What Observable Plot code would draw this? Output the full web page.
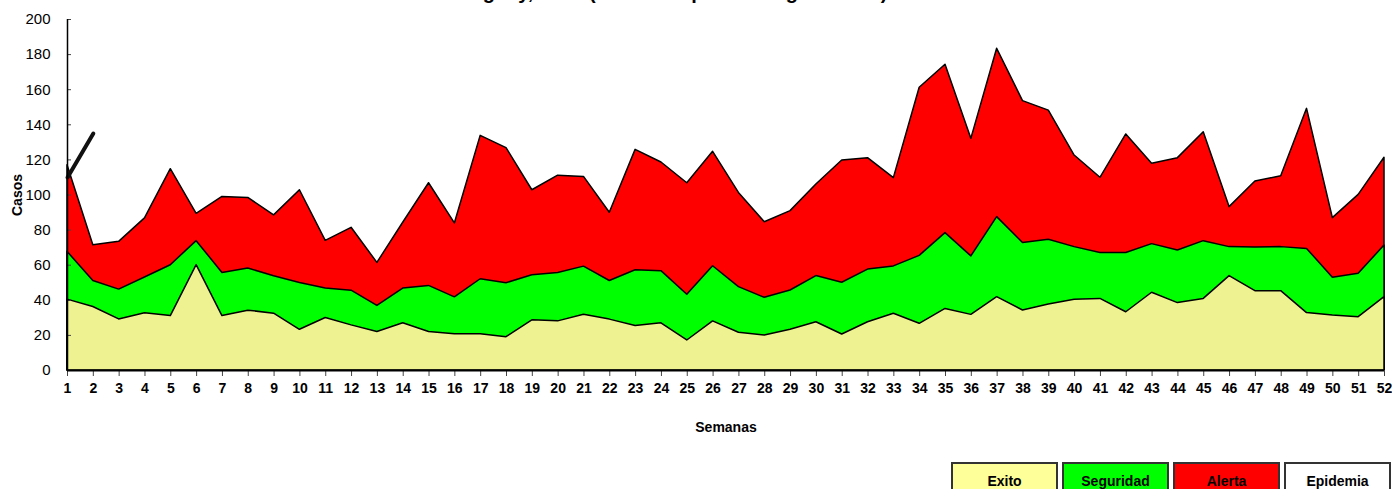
<!DOCTYPE html>
<html>
<head>
<meta charset="utf-8">
<script src="https://cdn.jsdelivr.net/npm/d3@7"></script>
<script src="https://cdn.jsdelivr.net/npm/@observablehq/plot@0.6"></script>
<style>
  html, body { margin: 0; padding: 0; background: #fff; }
  body { width: 1392px; height: 489px; overflow: hidden; position: relative; }
  #title { position: absolute; top: -18px; white-space: nowrap; font: bold 20px/20px "Liberation Sans", Arial, sans-serif; color: #000; }
  #chart { position: absolute; left: 0; top: 0; }
  #legend { position: absolute; left: 951px; top: 462px; display: flex; gap: 4px; }
  .box { width: 107px; height: 34px; box-sizing: border-box; border: 2px solid #333; padding-top: 9px; text-align: center; font: bold 14px/16px "Liberation Sans", Arial, sans-serif; color: #000; }
</style>
</head>
<body>
<div id="title"></div>
<div id="chart"></div>
<div id="legend"></div>
<script>
// ---- data ----
const weeks = [1,2,3,4,5,6,7,8,9,10,11,12,13,14,15,16,17,18,19,20,21,22,23,24,25,26,
               27,28,29,30,31,32,33,34,35,36,37,38,39,40,41,42,43,44,45,46,47,48,49,50,51,52];
const exito = [40.4,36.2,29.1,32.6,31.0,60.0,31.0,34.1,32.4,23.2,29.9,25.7,21.9,
               26.9,21.9,20.6,20.6,19.0,28.6,28.0,31.8,29.0,25.3,26.9,17.1,28.0,
               21.5,19.9,23.2,27.5,20.5,27.5,32.3,26.6,35.1,31.7,41.8,34.2,37.6,
               40.3,40.8,33.2,44.3,38.4,40.8,53.8,45.2,45.2,32.7,31.3,30.4,41.8];
const seguridad = [67.6,51.0,46.1,53.0,60.0,73.7,55.6,58.1,53.7,49.9,46.7,45.5,36.8,
                   46.7,48.2,41.7,52.0,49.7,54.3,55.6,59.2,51.0,57.1,56.6,43.2,59.4,
                   47.5,41.4,45.6,53.8,50.0,57.5,59.3,65.3,78.3,65.0,87.4,72.7,74.5,
                   70.3,67.0,67.0,72.0,68.4,73.7,70.3,70.1,70.3,69.3,52.8,55.1,71.2];
const alerta = [117.0,71.4,73.3,86.7,114.7,89.3,98.9,98.3,88.4,102.7,73.9,81.3,61.3,
                84.2,106.7,83.8,133.7,126.7,102.7,111.0,110.3,89.9,125.7,118.5,106.7,124.6,
                101.2,84.5,90.8,106.0,119.7,121.0,109.6,161.1,174.2,132.0,183.3,153.5,148.1,
                122.5,109.8,134.5,117.8,121.0,135.8,93.1,107.7,110.7,149.1,86.8,100.1,121.2];
const casosSemanas = [1, 2];
const casos = [110, 135];
const yTicks = [0,20,40,60,80,100,120,140,160,180,200];
const legendLabels = ["Exito", "Seguridad", "Alerta", "Epidemia"];
const legendColors = ["#ffff99", "#00ff00", "#ff0000", "#ffffff"];
const titleText = "Canal Endémico. Uruguay, 2012 (Semana Epidemiológica Nº 52)";

// ---- build ----
const zonas = weeks.map((w, i) => ({week: w, exito: exito[i], seguridad: seguridad[i], alerta: alerta[i]}));
const actual = casosSemanas.map((w, i) => ({week: w, casos: casos[i]}));
const narrow = '"Liberation Sans Narrow", "Arial Narrow", sans-serif';
const sans = '"Liberation Sans", Arial, sans-serif';

const plot = Plot.plot({
  width: 1392, height: 450,
  marginLeft: 67, marginRight: 8, marginTop: 19, marginBottom: 80,
  x: {domain: [1, 52]},
  y: {domain: [0, 200]},
  style: {background: "transparent", color: "#000"},
  marks: [
    Plot.areaY(zonas, {x: "week", y: "alerta", fill: "#ff0000", stroke: "#000", strokeWidth: 1.5}),
    Plot.areaY(zonas, {x: "week", y: "seguridad", fill: "#00ff00", stroke: "#000", strokeWidth: 1.5}),
    Plot.areaY(zonas, {x: "week", y: "exito", fill: "#eef290", stroke: "#000", strokeWidth: 1.5}),
    Plot.line(actual, {x: "week", y: "casos", stroke: "#111", strokeWidth: 4, strokeLinecap: "round"}),
    Plot.axisX({ticks: weeks, tickFormat: d => String(d), tickSize: 6, tickPadding: 7,
                fontFamily: narrow, fontWeight: "bold", fontSize: 14, label: null, stroke: "#444"}),
    Plot.axisY({ticks: yTicks, tickSize: -4, tickPadding: 21,
                fontFamily: narrow, fontSize: 15, label: null, stroke: "#444"}),
    Plot.ruleY([0], {stroke: "#000", strokeWidth: 2}),
    Plot.ruleX([1], {stroke: "#000", strokeWidth: 1.5}),
    Plot.text(["Semanas"], {text: d => d, frameAnchor: "bottom", dy: 57, lineAnchor: "middle",
                            fontWeight: "bold", fontSize: 14, fontFamily: sans}),
    Plot.text(["Casos"], {text: d => d, frameAnchor: "left", dx: -50, dy: 21, rotate: -90, lineAnchor: "middle",
                          fontWeight: "bold", fontSize: 14, fontFamily: sans})
  ]
});
document.getElementById("chart").appendChild(plot);

// title (mostly cropped above the picture, as in the reference)
const title = document.getElementById("title");
title.textContent = titleText;
const ctx = document.createElement("canvas").getContext("2d");
ctx.font = 'bold 20px "Liberation Sans", Arial, sans-serif';
const pre = titleText.slice(0, titleText.indexOf("("));
title.style.left = (589 - ctx.measureText(pre).width) + "px";

// legend
const legend = document.getElementById("legend");
legendLabels.forEach((lab, i) => {
  const b = document.createElement("div");
  b.className = "box";
  b.style.background = legendColors[i];
  b.textContent = lab;
  legend.appendChild(b);
});
</script>
</body>
</html>
